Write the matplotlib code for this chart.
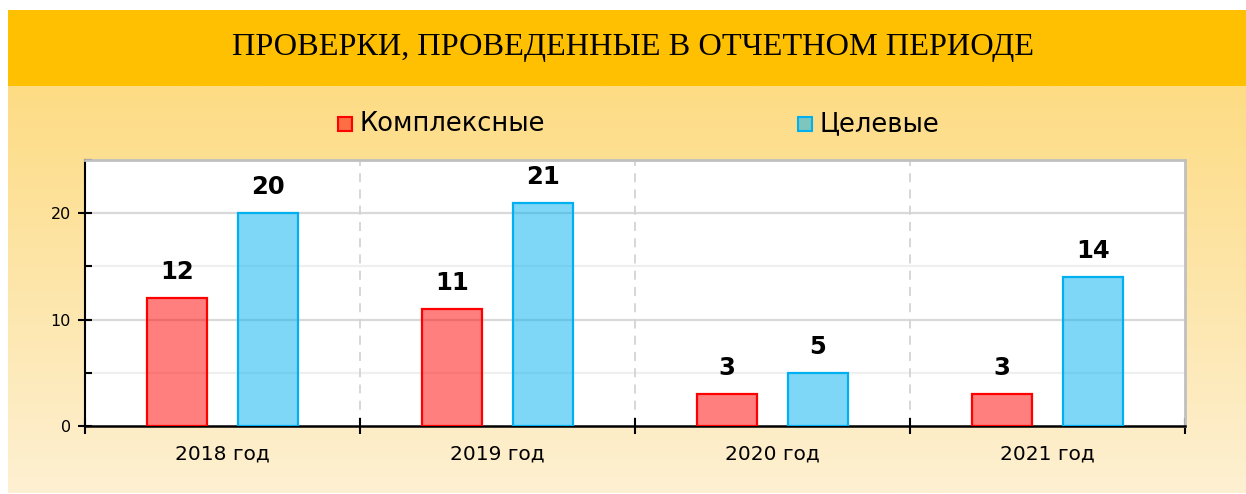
import matplotlib
matplotlib.use("Agg")
import matplotlib.pyplot as plt
import numpy as np
from matplotlib.patches import Rectangle
from matplotlib.colors import LinearSegmentedColormap

categories = ["2018 год", "2019 год", "2020 год", "2021 год"]
series_names = ["Комплексные", "Целевые"]
complex_vals = [12, 11, 3, 3]
target_vals = [20, 21, 5, 14]
title_text = "ПРОВЕРКИ, ПРОВЕДЕННЫЕ В ОТЧЕТНОМ ПЕРИОДЕ"

W, H = 1246, 494
fig = plt.figure(figsize=(W / 100, H / 100), dpi=100)
fig.patch.set_facecolor("white")

def fx(px):
    return px / W

def fy(py):
    return 1 - py / H

# gradient panel background
bg = fig.add_axes([fx(8), fy(493), fx(1246 - 8), (493 - 86) / H])
bg.set_axis_off()
cmap = LinearSegmentedColormap.from_list("g", ["#FEF0D2", "#FDDC84"])
grad = np.linspace(0, 1, 256).reshape(-1, 1)
bg.imshow(grad, aspect="auto", cmap=cmap, origin="lower", extent=[0, 1, 0, 1])
bg.set_xlim(0, 1)
bg.set_ylim(0, 1)

# title band
fig.patches.append(Rectangle((fx(8), fy(86)), fx(1246 - 8), (86 - 10) / H,
                             transform=fig.transFigure, facecolor="#FEC000",
                             edgecolor="none", zorder=1))
fig.text(fx(633), fy(48), title_text, ha="center", va="center",
         family="Liberation Serif", fontsize=23.3, color="black")

# plot area
ax = fig.add_axes([fx(85), fy(426), fx(1185 - 85), (426 - 160) / H])
ax.set_facecolor("white")
x = np.arange(len(categories))
bw = 0.22
off = 0.165
red_edge = "#FF0000"
blue_edge = "#00B0F0"
b1 = ax.bar(x - off, complex_vals, bw, facecolor=(1, 0, 0, 0.5), edgecolor=red_edge,
            linewidth=1.6, zorder=3, label=series_names[0])
b2 = ax.bar(x + off, target_vals, bw, facecolor=(0, 0.69, 0.94, 0.5), edgecolor=blue_edge,
            linewidth=1.6, zorder=3, label=series_names[1])
for bars in (b1, b2):
    for rect in bars:
        v = rect.get_height()
        ax.annotate(f"{int(v)}", (rect.get_x() + rect.get_width() / 2, v),
                    xytext=(0, 10), textcoords="offset points", ha="center", va="bottom",
                    fontsize=17.5, fontweight="bold", family="DejaVu Sans", color="black")

ax.set_xlim(-0.5, len(categories) - 0.5)
ax.set_ylim(0, 25)
ax.set_yticks([0, 10, 20])
ax.set_yticks([5, 15, 25], minor=True)
ax.tick_params(axis="y", which="major", direction="inout", length=10, width=1.5,
               labelsize=11.5, pad=5)
ax.tick_params(axis="y", which="minor", direction="in", length=5, width=1.5)
ax.set_xticks(x)
ax.set_xticklabels(categories, fontsize=14.5)
ax.tick_params(axis="x", which="major", length=0, pad=13)
ax.set_xticks(np.arange(len(categories) + 1) - 0.5, minor=True)
ax.tick_params(axis="x", which="minor", direction="inout", length=12, width=1.5)

for yv in [10, 20]:
    ax.axhline(yv, color="#D9D9D9", linewidth=1.6, zorder=1)
for yv in [5, 15]:
    ax.axhline(yv, color="#EFEFEF", linewidth=1.6, zorder=1)
for xv in np.arange(1, len(categories)) - 0.5:
    ax.axvline(xv, color="#D3D3D3", linewidth=1.3, linestyle=(0, (5, 4)), zorder=1)

ax.spines["left"].set_color("black")
ax.spines["left"].set_linewidth(1.5)
ax.spines["bottom"].set_color("black")
ax.spines["bottom"].set_linewidth(1.8)
for s in ("top", "right"):
    ax.spines[s].set_color("#C0C0C0")
    ax.spines[s].set_linewidth(2)

# legend drawn in figure space
leg_items = [(338, series_names[0], (1, 0, 0, 0.5), red_edge),
             (798, series_names[1], (0, 0.69, 0.94, 0.5), blue_edge)]
for px, name, fc, ec in leg_items:
    fig.patches.append(Rectangle((fx(px), fy(131)), fx(14), 14 / H,
                                 transform=fig.transFigure, facecolor=fc,
                                 edgecolor=ec, linewidth=1.5, zorder=3))
    fig.text(fx(px + 21), fy(124), name, ha="left", va="center", fontsize=18.5,
             family="DejaVu Sans", color="black")

fig.savefig("out.png", dpi=100)
